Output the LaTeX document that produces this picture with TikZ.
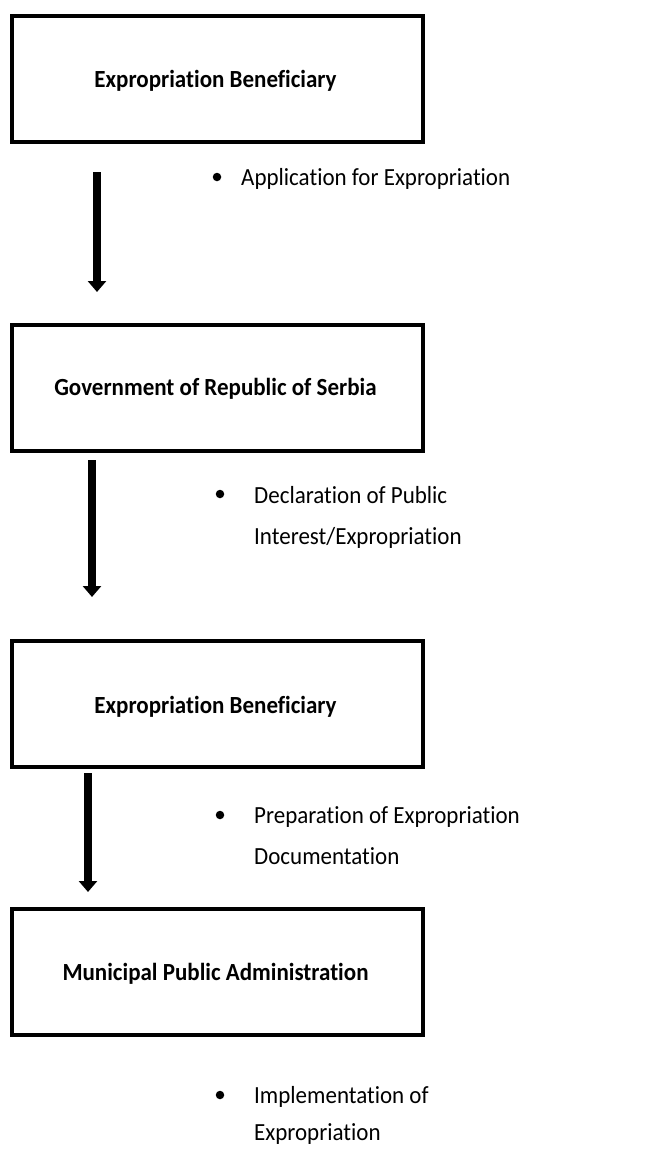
\documentclass[tikz,border=0pt]{standalone}
\usepackage{graphicx}
\usepackage{fontspec}
\setmainfont[Ligatures=NoCommon]{Carlito}
\usetikzlibrary{arrows.meta}
\newcommand{\tall}[1]{\scalebox{1}[1.07]{#1}}
\newcommand{\twolines}[3][0pt]{\tall{\begin{tabular}[t]{@{}l@{}}#2\\[#1]#3\end{tabular}}}
\begin{document}
\begin{tikzpicture}[x=1pt,y=-1pt,
  stage/.style={draw=black,line width=4pt,minimum width=411pt,minimum height=126pt,anchor=north west,inner sep=0pt},
  title/.style={anchor=base,inner sep=0pt,font=\fontsize{23}{28}\selectfont\bfseries},
  flow/.style={line width=8pt,-{Triangle[width=18pt,length=11pt]}},
  item/.style={anchor=base west,inner sep=0pt,font=\fontsize{23}{38.5}\selectfont},
  dot/.style={circle,fill=black,inner sep=0pt,minimum size=8.5pt}]
\useasboundingbox (0,0) rectangle (667,1149);
% boxes
\node[stage] (b1) at (10,14) {};
\node[title] (t1) at (215.5,87) {\tall{Expropriation Beneficiary}};
\node[stage] (b2) at (10,323) {};
\node[title] (t2) at (215.5,395) {\tall{Government of Republic of Serbia}};
\node[stage] (b3) at (10,639) {};
\node[title] (t3) at (215.5,713) {\tall{Expropriation Beneficiary}};
\node[stage] (b4) at (10,907) {};
\node[title] (t4) at (215.5,980) {\tall{Municipal Public Administration}};
% arrows
\coordinate (a1s) at (97,172); \coordinate (a1e) at (97,292);
\coordinate (a2s) at (92,460); \coordinate (a2e) at (92,597);
\coordinate (a3s) at (88,773); \coordinate (a3e) at (88,892);
\draw[flow] (a1s) -- (a1e);
\draw[flow] (a2s) -- (a2e);
\draw[flow] (a3s) -- (a3e);
% bullets
\node[dot] (d1) at (217,177) {};
\node[item] (i1) at (241,185) {\tall{Application for Expropriation}};
\node[dot] (d2) at (220,494) {};
\node[item] (i2) at (254,503) {\twolines{Declaration of Public}{Interest/Expropriation}};
\node[dot] (d3) at (220,815) {};
\node[item] (i3) at (254,823) {\twolines{Preparation of Expropriation}{Documentation}};
\node[dot] (d4) at (220,1095) {};
\node[item] (i4) at (254,1103) {\twolines[-3pt]{Implementation of}{Expropriation}};
\end{tikzpicture}
\end{document}
